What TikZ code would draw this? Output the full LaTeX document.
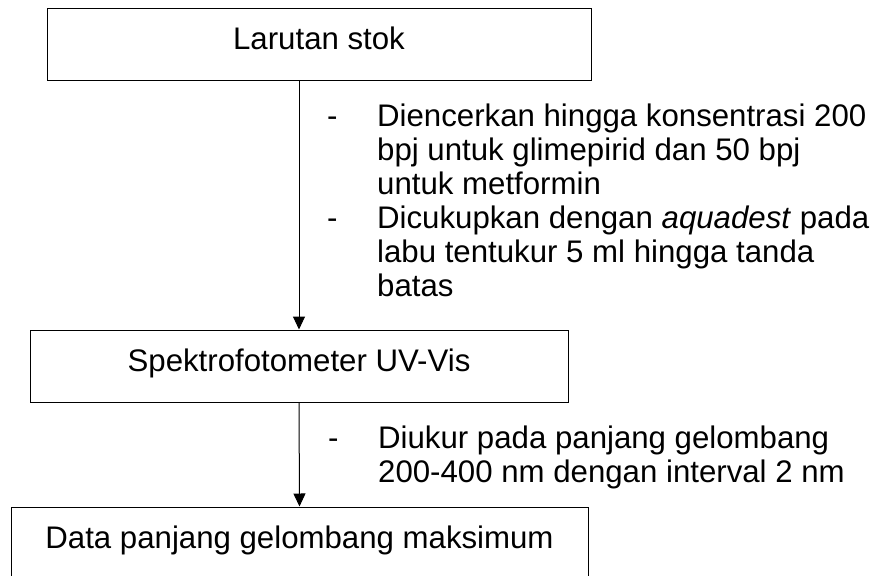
\documentclass[tikz,border=0pt]{standalone}
\usepackage{fontspec}
\setmainfont{Liberation Sans}
\usetikzlibrary{arrows.meta}

\begin{document}
\begin{tikzpicture}[x=1pt,y=-1pt,
    box node/.style={draw,line width=1pt,inner sep=0pt,minimum height=72pt,text height=23pt,text depth=13pt,font=\fontsize{31.2}{34}\selectfont},
    note node/.style={anchor=base west,inner sep=0pt,font=\fontsize{31.2}{34}\selectfont},
    panah/.style={-{Triangle[width=12pt,length=13pt]},line width=1pt}]
        \useasboundingbox (0,0) rectangle (890,575);
        \node [box node, minimum width=544pt] (stok) at (319,45) {Larutan stok};
        \node [box node, minimum width=538pt] (spektro) at (299,366) {Spektrofotometer UV-Vis};
        \node [box node, minimum width=577pt] (data) at (299.5,543) {Data panjang gelombang maksimum};
        \node [note node] (ket1) at (327,126) {\begin{tabular}[t]{@{}p{50pt}@{}l@{}}
            - & Diencerkan hingga konsentrasi 200\\
              & bpj untuk glimepirid dan 50 bpj\\
              & untuk metformin\\
            - & Dicukupkan dengan \textit{aquadest} pada\\
              & labu tentukur 5 ml hingga tanda\\
              & batas
        \end{tabular}};
        \node [note node] (ket2) at (328,448) {\begin{tabular}[t]{@{}p{50pt}@{}l@{}}
            - & Diukur pada panjang gelombang\\
              & 200-400 nm dengan interval 2 nm
        \end{tabular}};
        \draw [panah] (stok.south -| spektro.north) -- (spektro.north);
        \draw [panah] (spektro.south) -- (data.north);
    \end{tikzpicture}
\end{document}
